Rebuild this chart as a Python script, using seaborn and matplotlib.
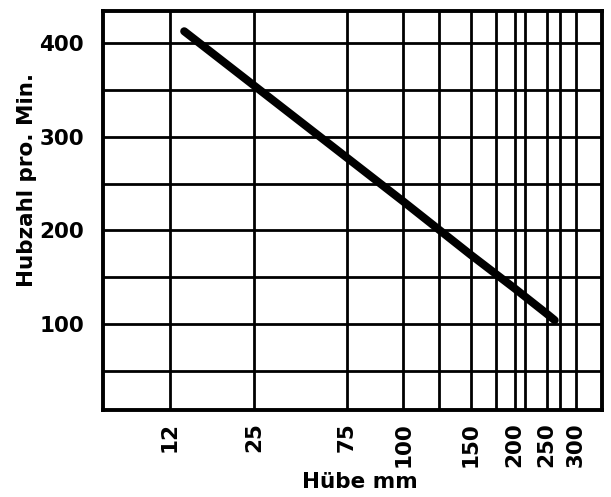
import matplotlib
matplotlib.use("Agg")
import matplotlib.pyplot as plt
import matplotlib.ticker as mtick
import numpy as np
import pandas as pd
import seaborn as sns

sns.set_theme(style="white")
plt.rcParams['font.family'] = ['DejaVu Sans']
plt.rcParams['font.weight'] = 'bold'
plt.rcParams['text.color'] = 'black'
plt.rcParams['axes.labelcolor'] = 'black'
plt.rcParams['xtick.color'] = 'black'
plt.rcParams['ytick.color'] = 'black'

# data
hube_mm = [14.2, 25, 75, 100, 150, 200, 250, 265]
hubzahl = [413, 355, 278, 231, 174, 138, 111, 104]

x_labeled = [12, 25, 75, 100, 150, 200, 250, 300]
x_unlabeled = [125, 175, 225, 275]
y_labeled = [100, 200, 300, 400]
y_unlabeled = [50, 150, 250, 350]

# the paper uses an irregular stroke scale; anchor values -> relative position on the axis
scale_vals = [0, 12, 25, 75, 100, 125, 150, 175, 200, 225, 250, 275, 300, 350]
scale_pos = [103.3, 170, 254, 346.7, 403.3, 438.7, 470.7, 495.7, 514.7, 525.3,
             546.7, 560, 575.7, 601.7]


def fwd(v):
    return np.interp(v, scale_vals, scale_pos)


def inv(p):
    return np.interp(p, scale_pos, scale_vals)


df = pd.DataFrame({'Hübe mm': hube_mm, 'Hubzahl': hubzahl})

fig = plt.figure(figsize=(6.11, 4.97), dpi=100)
ax = fig.add_axes([103.3 / 611, 1 - 410 / 497, 498.4 / 611, 399.3 / 497])

sns.lineplot(data=df, x='Hübe mm', y='Hubzahl', ax=ax, color='black',
             linewidth=5.8, solid_capstyle='round', sort=False)

ax.set_xscale('function', functions=(fwd, inv))
ax.set_xlim(0, 350)
ax.set_ylim(8, 435)

ax.xaxis.set_major_locator(mtick.FixedLocator(x_labeled))
ax.xaxis.set_minor_locator(mtick.FixedLocator(x_unlabeled))
ax.xaxis.set_major_formatter(mtick.FixedFormatter([str(v) for v in x_labeled]))
ax.xaxis.set_minor_formatter(mtick.NullFormatter())
ax.yaxis.set_major_locator(mtick.FixedLocator(y_labeled))
ax.yaxis.set_minor_locator(mtick.FixedLocator(y_unlabeled))

ax.grid(which='both', color='black', linewidth=2.0)
ax.set_axisbelow(True)
for s in ax.spines.values():
    s.set_color('black')
    s.set_linewidth(2.8)

ax.tick_params(axis='both', which='both', length=0, labelcolor='black')
ax.tick_params(axis='x', labelsize=15.5, pad=8.6, labelrotation=90)
ax.tick_params(axis='y', labelsize=15.5, pad=14)
for lab in ax.get_xticklabels() + ax.get_yticklabels():
    lab.set_fontweight('bold')

ax.set_xlabel('Hübe mm', fontsize=15.5, fontweight='bold', color='black')
ax.set_ylabel('Hubzahl pro. Min.', fontsize=15.5, fontweight='bold', color='black')
ax.xaxis.set_label_coords(0.515, -0.155)
ax.yaxis.set_label_coords(-0.133, 0.576)

fig.savefig('out.png', dpi=100)
